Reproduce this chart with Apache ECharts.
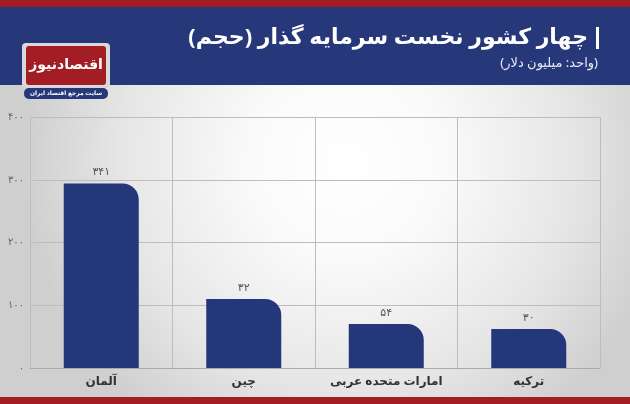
<!DOCTYPE html>
<html><head><meta charset="utf-8">
<script src="https://cdn.jsdelivr.net/npm/echarts@6/dist/echarts.min.js"></script>
<style>html,body{margin:0;padding:0}#c{width:630px;height:404px}</style></head>
<body><div id="c"></div>
<script>
const categories = ['آلمان','چین','امارات متحده عربی','ترکیه'];
const values = [294, 110, 70, 62];
const valueLabels = ['۳۴۱','۳۲','۵۴','۳۰'];
const tickLabels = {0:'۰',100:'۱۰۰',200:'۲۰۰',300:'۳۰۰',400:'۴۰۰'};
const F = '"Noto Sans", "DejaVu Sans", sans-serif';
const chart = echarts.init(document.getElementById('c'));
chart.setOption({
  animation:false,
  graphic:[
    {type:'rect',z:-10,shape:{x:0,y:0,width:630,height:404},style:{fill:{type:'radial',x:0.55,y:0.4,r:0.8,colorStops:[{offset:0,color:'#ffffff'},{offset:0.3,color:'#fafafa'},{offset:0.7,color:'#e6e6e6'},{offset:1,color:'#cfcfcf'}]}}},
    {type:'rect',z:-5,shape:{x:0,y:0,width:630,height:7},style:{fill:'#a31d24'}},
    {type:'rect',z:-5,shape:{x:0,y:7,width:630,height:78},style:{fill:'#26387a'}},
    {type:'rect',z:-5,shape:{x:0,y:397,width:630,height:7},style:{fill:'#a31d24'}},
    {type:'rect',shape:{x:596,y:27,width:3,height:22},style:{fill:'#fff'}},
    {type:'text',style:{x:588,y:38,text:'چهار کشور نخست سرمایه گذار (حجم)',fill:'#fff',font:'bold 22px '+F,align:'right',verticalAlign:'middle'}},
    {type:'text',style:{x:598,y:63,text:'(واحد: میلیون دلار)',fill:'#e8e8f0',font:'13px '+F,align:'right',verticalAlign:'middle'}},
    {type:'rect',shape:{x:22,y:43,width:88,height:45,r:4},style:{fill:'#d9d9d9'}},
    {type:'rect',shape:{x:26,y:46,width:80,height:39,r:3},style:{fill:'#a31d24'}},
    {type:'text',style:{x:66,y:65,text:'اقتصادنیوز',fill:'#fff',font:'bold 14px '+F,align:'center',verticalAlign:'middle'}},
    {type:'rect',shape:{x:24,y:88,width:84,height:11,r:5},style:{fill:'#26387a'}},
    {type:'text',style:{x:66,y:93.5,text:'سایت مرجع اقتصاد ایران',fill:'#fff',font:'bold 6px '+F,align:'center',verticalAlign:'middle'}}
  ],
  grid:{left:30,right:30,top:117,bottom:36},
  xAxis:{type:'category',data:categories,
    axisLine:{lineStyle:{color:'#aaa'}},axisTick:{show:false},
    splitLine:{show:true,interval:0,lineStyle:{color:'#bdbdbd'}},
    axisLabel:{interval:0,color:'#333',fontFamily:F,fontSize:12,fontWeight:'bold',margin:8}},
  yAxis:{type:'value',min:0,max:400,interval:100,
    axisLine:{show:true,lineStyle:{color:'#bdbdbd'}},
    splitLine:{lineStyle:{color:'#bdbdbd'}},
    axisLabel:{color:'#666',fontFamily:F,fontSize:10,margin:6,formatter:v=>tickLabels[v]}},
  series:[{type:'bar',data:values,barWidth:75,
    itemStyle:{color:'#25377b',borderRadius:[0,16,0,0]},
    label:{show:true,position:'top',color:'#555',fontFamily:F,fontSize:11,distance:6,
      formatter:p=>valueLabels[p.dataIndex]}}]
});
</script></body></html>
